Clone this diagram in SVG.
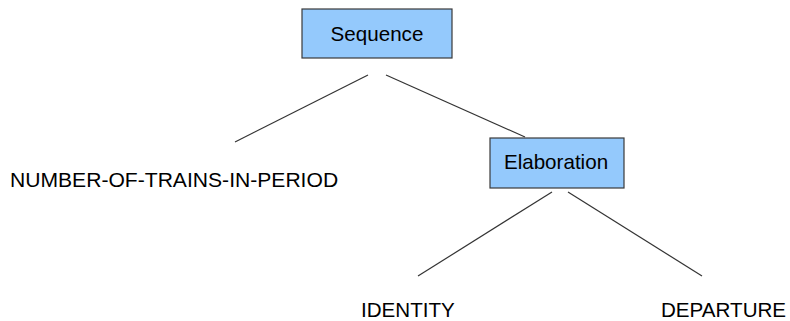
<svg xmlns="http://www.w3.org/2000/svg" width="790" height="321" viewBox="0 0 790 321">
<style>
.box{fill:#94c9fc;stroke:#3a3a3a;stroke-width:1.2}
.lbl{font-family:"Liberation Sans",Arial,sans-serif;font-size:20.6px;fill:#000}
.edge{stroke:#333;stroke-width:1.2;fill:none}
</style>
<rect width="790" height="321" fill="#fff"/>
<g id="connectors">
<line class="edge" x1="368" y1="75" x2="235" y2="142"/>
<line class="edge" x1="386" y1="75" x2="525" y2="137"/>
<line class="edge" x1="552" y1="192" x2="418" y2="276"/>
<line class="edge" x1="568" y1="192" x2="702" y2="276"/>
</g>
<g id="sequence">
<rect class="box" x="302" y="9" width="150" height="49"/>
<text class="lbl" x="377" y="40.5" text-anchor="middle">Sequence</text>
</g>
<g id="elaboration">
<rect class="box" x="490" y="138" width="134" height="50"/>
<text class="lbl" x="556" y="169" text-anchor="middle">Elaboration</text>
</g>
<g id="number-of-trains">
<text class="lbl" x="10" y="187" style="font-size:21.1px">NUMBER-OF-TRAINS-IN-PERIOD</text>
</g>
<g id="identity">
<text class="lbl" x="361" y="317">IDENTITY</text>
</g>
<g id="departure">
<text class="lbl" x="661" y="317">DEPARTURE</text>
</g>
</svg>
